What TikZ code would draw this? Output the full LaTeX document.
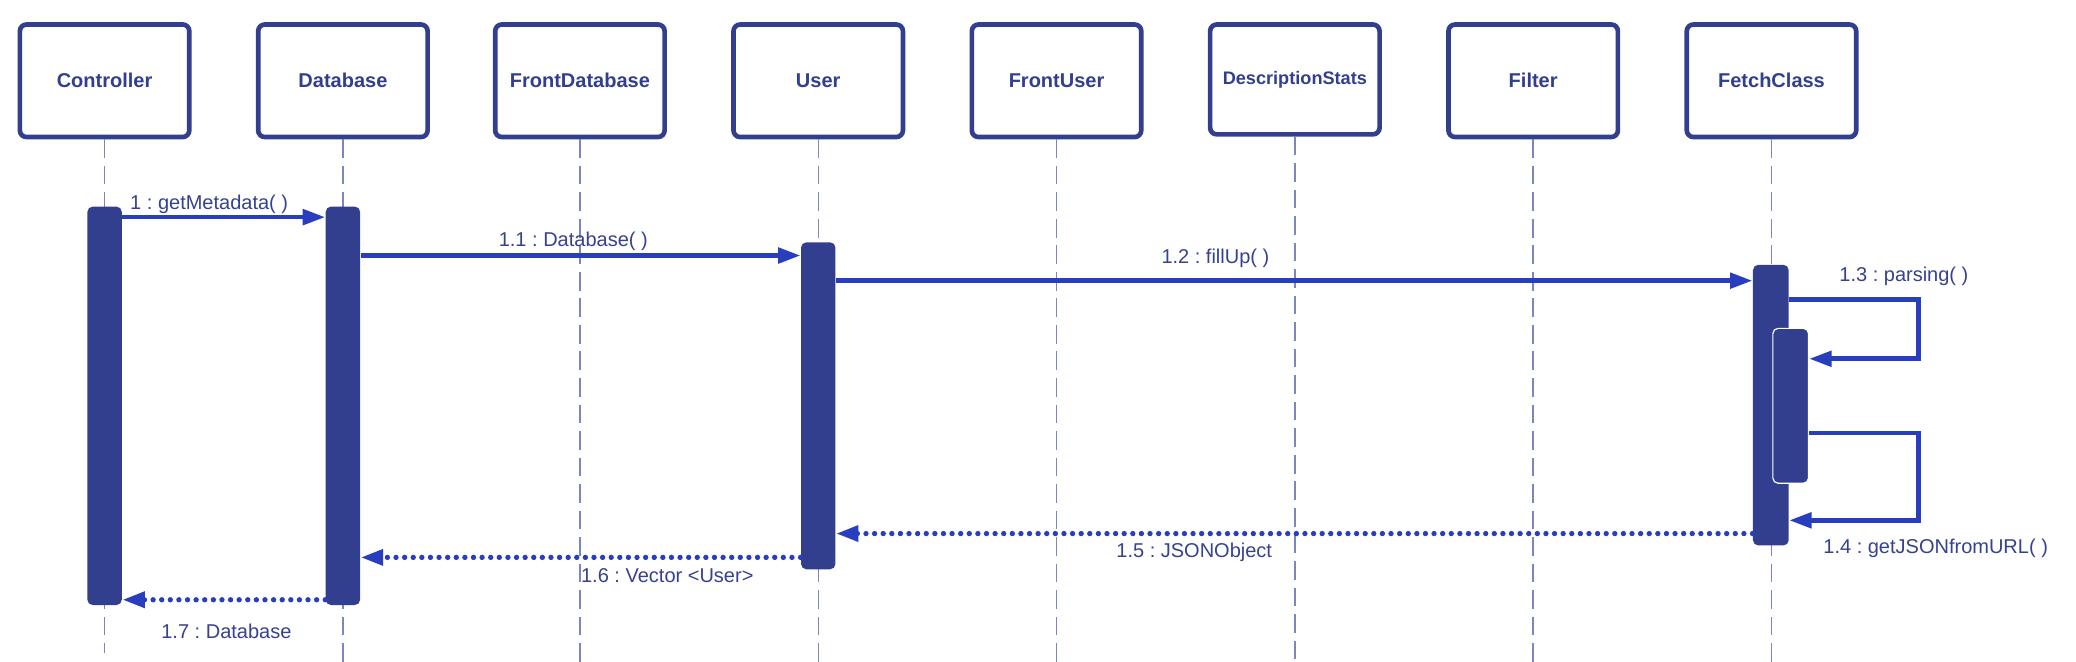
\documentclass[tikz,border=0pt]{standalone}
\usepackage{fontspec}
\setmainfont{Liberation Sans}
\usetikzlibrary{arrows.meta, positioning}
\definecolor{boxblue}{HTML}{323F8F}
\definecolor{msgblue}{HTML}{283EBE}
\definecolor{txtblue}{HTML}{36418F}
\definecolor{lifeblue}{HTML}{7A86BD}
\frenchspacing

\begin{document}
\begin{tikzpicture}[x=0.02cm, y=-0.02cm]
\tikzstyle{every node}+=[inner sep=0pt]
\tikzstyle{obj}=[draw=boxblue, line width=2pt, rounded corners=0.1cm, fill=white, minimum width=2.56cm, minimum height=1.7cm, text=boxblue, font=\fontsize{8.6}{10}\selectfont\bfseries]
\tikzstyle{life}=[lifeblue, line width=0.6pt, dash pattern=on 8pt off 3.4pt]
\tikzstyle{act}=[fill=boxblue, rounded corners=0.08cm, minimum width=0.52cm]
\tikzstyle{msg}=[msgblue, line width=2pt, -{Triangle[length=0.34cm, width=0.23cm]}]
\tikzstyle{ret}=[msg, line width=2.3pt, line cap=round, dash pattern=on 0pt off 3.7pt]
\tikzstyle{lbl}=[text=txtblue, font=\fontsize{8.6}{10}\selectfont]
\useasboundingbox (0,0) rectangle (1568,500);
\node [obj] (controller) at (79,61) {Controller};
\node [obj] (database) at (259,61) {Database};
\node [obj] (frontdb) at (438,61) {FrontDatabase};
\node [obj] (user) at (618,61) {User};
\node [obj] (frontuser) at (798,61) {FrontUser};
\node [obj, minimum height=1.66cm, font=\fontsize{7.8}{9}\selectfont\bfseries] (descstats) at (978,60) {DescriptionStats};
\node [obj] (filter) at (1158,61) {Filter};
\node [obj] (fetch) at (1338,61) {FetchClass};
\coordinate (ctrlend) at (0,493);
\coordinate (bottom) at (0,500);
\draw [life] (controller.south) -- (controller.south |- ctrlend);
\draw [life] (database.south) -- (database.south |- bottom);
\draw [life] (frontdb.south) -- (frontdb.south |- bottom);
\draw [life] (user.south) -- (user.south |- bottom);
\draw [life] (frontuser.south) -- (frontuser.south |- bottom);
\draw [life] (descstats.south) -- (descstats.south |- bottom);
\draw [life] (filter.south) -- (filter.south |- bottom);
\draw [life] (fetch.south) -- (fetch.south |- bottom);
\node [act, minimum height=6.02cm] (ctrlact) at (79,306.5) {};
\node [act, minimum height=6.02cm] (dbact) at (259,306.5) {};
\node [act, minimum height=4.94cm] (useract) at (618,306.5) {};
\node [act, minimum height=4.24cm, minimum width=0.54cm] (fetchact) at (1337.5,306) {};
\node [act, draw=white, line width=0.5pt, minimum height=2.34cm, minimum width=0.54cm] (parseact) at (1352.5,306.5) {};
\coordinate (m1) at (0,164);
\coordinate (m11) at (0,193);
\coordinate (m12) at (0,212);
\coordinate (m13a) at (0,226);
\coordinate (m13b) at (0,271);
\coordinate (m14a) at (0,327);
\coordinate (m14b) at (0,393);
\coordinate (m15) at (0,403);
\coordinate (m16) at (0,421);
\coordinate (m17) at (0,453);
\coordinate (loopx) at (1449,0);
\draw [msg] (ctrlact.east |- m1) -- (dbact.west |- m1);
\node [lbl] (l1) at (158,154) {1 : getMetadata( )};
\draw [msg] (dbact.east |- m11) -- (useract.west |- m11);
\node [lbl] (l11) at (433,182) {1.1 : Database( )};
\draw [msg] (useract.east |- m12) -- (fetchact.west |- m12);
\node [lbl] (l12) at (918,195) {1.2 : fillUp( )};
\draw [msg] (fetchact.east |- m13a) -| (loopx |- m13b) -- (parseact.east |- m13b);
\node [lbl] (l13) at (1438,209) {1.3 : parsing( )};
\draw [msg] (parseact.east |- m14a) -| (loopx |- m14b) -- (fetchact.east |- m14b);
\node [lbl] (l14) at (1462,414) {1.4 : getJSONfromURL( )};
\draw [ret] (fetchact.west |- m15) -- (useract.east |- m15);
\node [lbl] (l15) at (902,417) {1.5 : JSONObject};
\draw [ret] (useract.west |- m16) -- (dbact.east |- m16);
\node [lbl] (l16) at (504,435) {1.6 : Vector <User>};
\draw [ret] (dbact.west |- m17) -- (ctrlact.east |- m17);
\node [lbl] (l17) at (171,477) {1.7 : Database};
\end{tikzpicture}
\end{document}
